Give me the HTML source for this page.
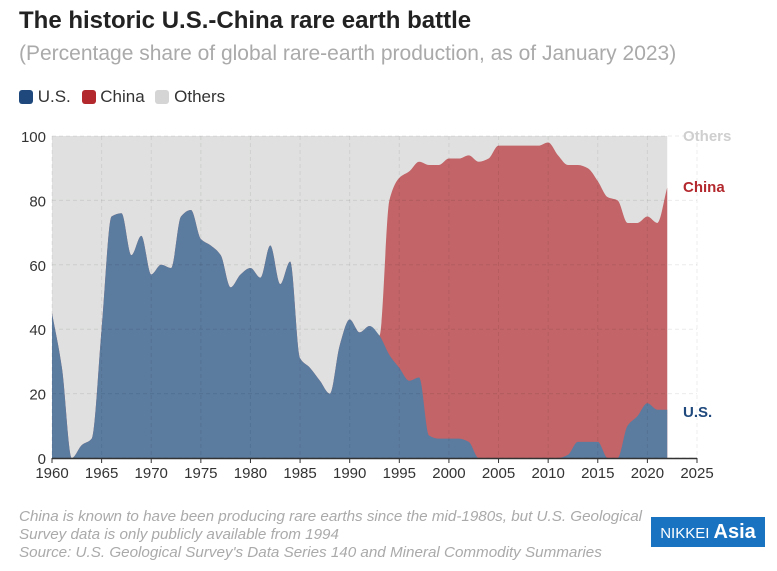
<!DOCTYPE html>
<html><head><meta charset="utf-8"><style>
body{margin:0;background:#fff;font-family:"Liberation Sans",sans-serif;}
#wrap{position:relative;width:777px;height:571px;overflow:hidden}
.t{position:absolute;white-space:nowrap}
</style></head><body>
<div id="wrap">
<div class="t" style="left:19px;top:7px;font-size:24px;font-weight:bold;color:#222">The historic U.S.-China rare earth battle</div>
<div class="t" style="left:19px;top:42px;font-size:21px;color:#aaa">(Percentage share of global rare-earth production, as of January 2023)</div>
<div class="t" style="left:19px;top:87px;font-size:17px;color:#333">
<span><span style="display:inline-block;width:14px;height:14px;border-radius:3px;background:#1f497d;vertical-align:-2px"></span> U.S.</span>
<span style="margin-left:6px"><span style="display:inline-block;width:14px;height:14px;border-radius:3px;background:#b3282d;vertical-align:-2px"></span> China</span>
<span style="margin-left:6px"><span style="display:inline-block;width:14px;height:14px;border-radius:3px;background:#d5d5d5;vertical-align:-2px"></span> Others</span>
</div>
<svg id="chart" width="777" height="571" style="position:absolute;left:0;top:0"></svg>
<div class="t" style="left:19px;top:508px;font-size:15.2px;font-style:italic;color:#aaa;line-height:18px">China is known to have been producing rare earths since the mid-1980s, but U.S. Geological<br>Survey data is only publicly available from 1994<br>Source: U.S. Geological Survey's Data Series 140 and Mineral Commodity Summaries</div>
<div class="t" style="left:651px;top:517px;width:114px;height:30px;background:#1a73c0;color:#fff;font-size:15px;line-height:30px;text-align:center">NIKKEI <b style="font-size:20px">Asia</b></div>
</div>
<script>
const years=[];for(let y=1960;y<=2022;y++)years.push(y);
const usShare=[45,28,0,4,6,40,75,76,63,69,57,60,59,75,77,68,66,63,53,57,59,56,66,54,61,31,28,24,20,35,43,39,41,38,32,28,24,25,7,6,6,6,5,0,0,0,0,0,0,0,0,0,1,5,5,5,0,0,10,13,17,15,15];
const chinaShare=[0,0,0,0,0,0,0,0,0,0,0,0,0,0,0,0,0,0,0,0,0,0,0,0,0,0,0,0,0,0,0,0,0,0,48,59,65,67,84,85,87,87,89,92,93,97,97,97,97,97,98,94,90,86,85,81,81,80,63,60,58,58,69];
const xTicks=[1960,1965,1970,1975,1980,1985,1990,1995,2000,2005,2010,2015,2020,2025];
const yTicks=[0,20,40,60,80,100];
const X=v=>52+(v-1960)*(645/65), Y=v=>458-v*3.22;
const svg=document.getElementById('chart'),NS='http://www.w3.org/2000/svg';
function mk(t,a,txt){const e=document.createElementNS(NS,t);for(const k in a)e.setAttribute(k,a[k]);if(txt!=null)e.textContent=txt;svg.appendChild(e);return e;}
function mono(pts){const n=pts.length,d=[],m=[];for(let i=0;i<n-1;i++)d.push((pts[i+1][1]-pts[i][1])/(pts[i+1][0]-pts[i][0]));
m[0]=d[0];m[n-1]=d[n-2];for(let i=1;i<n-1;i++){const a=d[i-1],b=d[i];m[i]=a*b<=0?0:2*a*b/(a+b);}
let s='';for(let i=0;i<n-1;i++){const h=pts[i+1][0]-pts[i][0];s+=` C${pts[i][0]+h/3},${pts[i][1]+m[i]*h/3} ${pts[i+1][0]-h/3},${pts[i+1][1]-m[i+1]*h/3} ${pts[i+1][0]},${pts[i+1][1]}`;}return s;}
const r=mk('rect',{x:X(1960),y:Y(100),width:X(2022)-X(1960),height:Y(0)-Y(100),fill:'#dfe0df'});

const topPts=years.map((y,i)=>[X(y),Y(usShare[i]+chinaShare[i])]);
const c=mk('path',{d:`M${X(1960)},${Y(0)} L${topPts[0][0]},${topPts[0][1]}`+mono(topPts)+` L${X(2022)},${Y(0)} Z`,fill:'#c26468'});

const usPts=years.map((y,i)=>[X(y),Y(usShare[i])]);
const u=mk('path',{d:`M${X(1960)},${Y(0)} L${usPts[0][0]},${usPts[0][1]}`+mono(usPts)+` L${X(2022)},${Y(0)} Z`,fill:'#5b7b9f'});

yTicks.forEach(v=>{const g=mk('line',{x1:52,x2:697,y1:Y(v),y2:Y(v),stroke:'rgba(0,0,0,0.08)','stroke-dasharray':'4,3'});
const t=mk('text',{x:46,y:Y(v)+6,'text-anchor':'end','font-size':15,fill:'#333'},v);});
xTicks.forEach(v=>{const g=mk('line',{x1:X(v),x2:X(v),y1:Y(100),y2:Y(0),stroke:'rgba(0,0,0,0.07)','stroke-dasharray':'4,3'});
const k=mk('line',{x1:X(v),x2:X(v),y1:458,y2:463,stroke:'#333'});
const t=mk('text',{x:X(v),y:478,'text-anchor':'middle','font-size':15,fill:'#333'},v);});
const ax=mk('line',{x1:52,x2:697,y1:458.5,y2:458.5,stroke:'#333','stroke-width':1.5});
[['Others',141,'#cfcfcf','label-others'],['China',192,'#b3282d','label-china'],['U.S.',417,'#1f497d','label-us']].forEach(a=>{const t=mk('text',{x:683,y:a[1],'font-size':15,'font-weight':'bold',fill:a[2]},a[0]);});
</script>
</body></html>
